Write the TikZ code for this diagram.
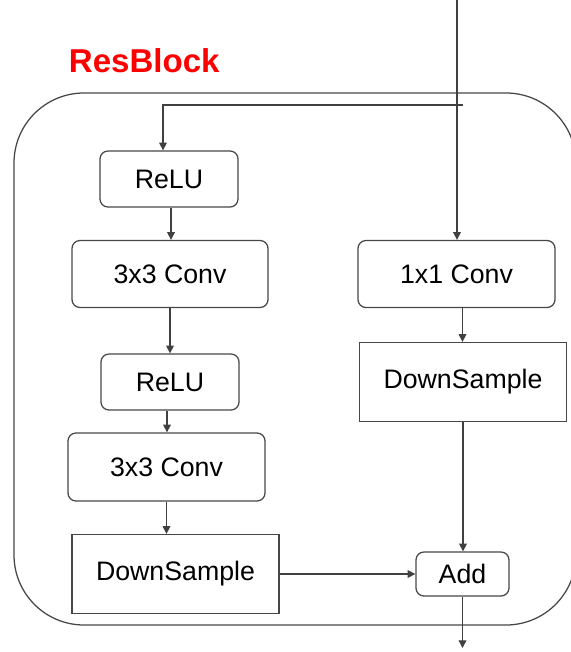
\documentclass[tikz,border=0pt]{standalone}
\usepackage{fontspec}
\setmainfont{Liberation Sans}
\usetikzlibrary{arrows.meta}

\tikzset{
  capa/.style={shape=rectangle,draw=black!72,line width=0.9pt,rounded corners=0.2cm,
    font=\fontsize{19}{21}\selectfont,align=center},
  muestreo/.style={capa,rounded corners=0pt,minimum width=5.175cm,minimum height=1.975cm},
  flecha/.style={draw=black!75,line width=0.9pt,-{Triangle[length=5.5pt,width=5.5pt]}}
}

\begin{document}
\begin{tikzpicture}[x=0.025cm,y=-0.025cm]
  \path[use as bounding box] (0,0) rectangle (571,652);
  \clip (0,0) rectangle (571,652);

  \node[anchor=base west,text=red,font=\fontsize{23.5}{26}\selectfont\bfseries] (titulo) at (64,72) {ResBlock};
  \draw[draw=black!72,line width=0.9pt,rounded corners=1.75cm] (14,93) rectangle (576,625);

  \node[capa,minimum width=3.45cm,minimum height=1.4cm] (firstRelu) at (169,179) {ReLU};
  \node[capa,minimum width=4.9cm,minimum height=1.675cm] (firstConv) at (170,274) {3x3 Conv};
  \node[capa,minimum width=3.45cm,minimum height=1.4cm] (secondRelu) at (170,382) {ReLU};
  \node[capa,minimum width=4.925cm,minimum height=1.7cm] (secondConv) at (166.5,467) {3x3 Conv};
  \node[muestreo] (leftDownSample) at (175.5,574) {DownSample};
  \node[capa,minimum width=4.925cm,minimum height=1.675cm] (shortcutConv) at (456.5,274) {1x1 Conv};
  \node[muestreo] (rightDownSample) at (463,382) {DownSample};
  \node[capa,minimum width=2.325cm,minimum height=1.1cm] (addNode) at (462.5,574) {Add};

  \coordinate (entrada) at (457,0);
  \coordinate (rama) at (463,105);
  \coordinate (salida) at (462.5,648);

  % input and the branch to the left path
  \path[flecha] (entrada) -- (shortcutConv.north -| entrada);
  \path[flecha] (rama) -| ([xshift=-0.15cm]firstRelu.north);

  % left path
  \path[flecha] ([xshift=0.05cm]firstRelu.south) -- ([xshift=0.05cm]firstRelu.south |- firstConv.north);
  \path[flecha] (firstConv.south) -- (firstConv.south |- secondRelu.north);
  \path[flecha] ([xshift=-0.075cm]secondRelu.south) -- ([xshift=-0.075cm]secondRelu.south |- secondConv.north);
  \path[flecha] (secondConv.south) -- (secondConv.south |- leftDownSample.north);
  \path[flecha] (leftDownSample.east) -- (leftDownSample.east -| addNode.west);

  % shortcut path
  \path[flecha] ([xshift=0.15cm]shortcutConv.south) -- ([xshift=0.15cm]shortcutConv.south |- rightDownSample.north);
  \path[flecha] (rightDownSample.south) -- (rightDownSample.south |- addNode.north);
  \path[flecha] (addNode) -- (salida);
\end{tikzpicture}
\end{document}
